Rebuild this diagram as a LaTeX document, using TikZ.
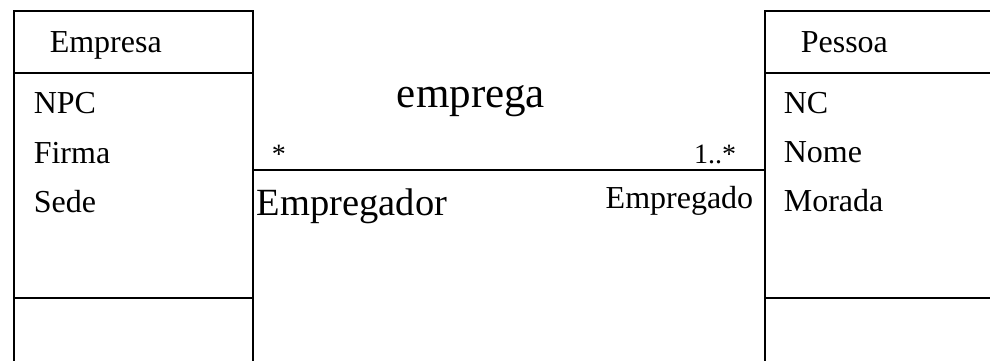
\documentclass[tikz,border=0pt]{standalone}
\usepackage{fontspec}
\setmainfont{Liberation Serif}
\begin{document}
\begin{tikzpicture}[x=1pt, y=-1pt, line width=1.6pt,
  classbox/.style={draw, rectangle, anchor=north west, inner sep=0pt},
  attr/.style={inner sep=0pt, anchor=base west, font=\fontsize{32}{38}\selectfont},
  mult/.style={inner sep=0pt, font=\fontsize{28}{34}\selectfont}]
\useasboundingbox (0,0) rectangle (990,360);
\clip (0,0) rectangle (990,360);
\coordinate (rowA) at (0,73);
\coordinate (rowB) at (0,298);
\coordinate (link) at (0,170);
% classes
\node[classbox, minimum width=239pt, minimum height=380pt] (empresa) at (13,10) {};
\node[classbox, minimum width=260pt, minimum height=380pt] (pessoa) at (764,10) {};
\draw (empresa.west |- rowA) -- (empresa.east |- rowA);
\draw (empresa.west |- rowB) -- (empresa.east |- rowB);
\draw (pessoa.west |- rowA) -- (pessoa.east |- rowA);
\draw (pessoa.west |- rowB) -- (pessoa.east |- rowB);
\node[attr] (empresaname) at (49,52) {Empresa};
\node[attr] (npc) at (33,113) {NPC};
\node[attr] (firma) at (33,163) {Firma};
\node[attr] (sede) at (33,212) {Sede};
\node[attr] (pessoaname) at (800,52) {Pessoa};
\node[attr] (nc) at (783,113) {NC};
\node[attr] (nome) at (783,162) {Nome};
\node[attr] (morada) at (783,211) {Morada};
% association
\draw (empresa.east |- link) -- (pessoa.west |- link);
\node[inner sep=0pt, anchor=base, font=\fontsize{43}{50}\selectfont] (emprega) at (471,107) {emprega};
\node[mult, anchor=base west] (multleft) at (271,163) {*};
\node[mult, anchor=base east] (multright) at (737,163) {1..*};
\node[inner sep=0pt, anchor=base west, font=\fontsize{38.5}{46}\selectfont] (empregador) at (256,215) {Empregador};
\node[attr, anchor=base east] (empregado) at (754,208) {Empregado};
\end{tikzpicture}
\end{document}
